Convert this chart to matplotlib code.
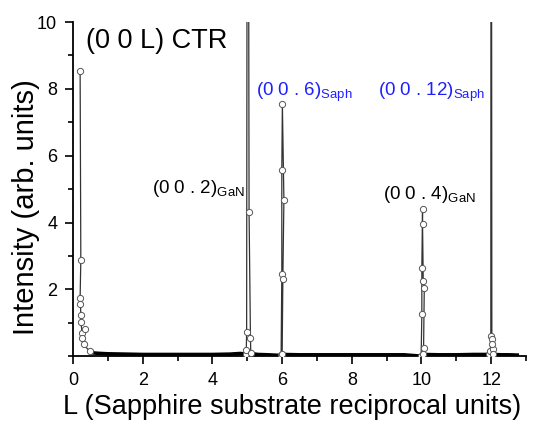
import numpy as np
import matplotlib
matplotlib.use("Agg")
import matplotlib.pyplot as plt
from matplotlib.ticker import MultipleLocator

plt.rcParams['font.family'] = ['Liberation Sans', 'DejaVu Sans']
plt.rcParams['mathtext.fontset'] = 'custom'
plt.rcParams['mathtext.rm'] = 'Liberation Sans'

# specular rod near L = 0
rod_L = [0.20, 0.22, 0.20, 0.21, 0.22, 0.22, 0.26, 0.34, 0.26, 0.30, 0.47]
rod_I = [8.53, 2.88, 1.75, 1.55, 1.23, 1.03, 0.68, 0.82, 0.54, 0.35, 0.15]

# (0 0 . 2) GaN
gan2_L = [4.95, 4.97, 4.98, 5.01, 5.05, 5.09, 5.10]
gan2_I = [0.06, 0.18, 0.72, 30.0, 4.32, 0.53, 0.08]

# (0 0 . 6) sapphire
sap6_L = [5.97, 5.99, 5.99, 6.006, 6.05, 6.02, 6.00]
sap6_I = [0.02, 2.47, 5.56, 7.56, 4.68, 2.32, 0.05]

# (0 0 . 4) GaN
gan4_L = [9.99, 10.01, 10.01, 10.03, 10.03, 10.05, 10.08, 10.06, 10.05]
gan4_I = [0.00, 1.25, 2.63, 4.40, 3.97, 2.25, 2.05, 0.25, 0.05]

# (0 0 . 12) sapphire
sap12_L = [11.95, 11.98, 11.99, 12.00, 12.02, 12.04, 12.03, 12.06]
sap12_I = [0.05, 0.15, 0.60, 30.0, 0.50, 0.20, 0.35, 0.05]

# background between peaks
base_L = [0.47, 0.55, 0.65, 0.8, 1.0, 1.5, 2.0, 2.5, 3.0, 3.5, 4.0, 4.5, 4.8, 4.95,
          5.1, 5.3, 5.6, 5.97, 6.0, 6.5, 7.0, 7.5, 8.0, 8.5, 9.0, 9.5, 9.99,
          10.05, 10.5, 11.0, 11.5, 11.95, 12.06, 12.3, 12.5, 12.8]
base_I = [0.15, 0.10, 0.09, 0.08, 0.07, 0.06, 0.05, 0.05, 0.05, 0.05, 0.05, 0.06, 0.08, 0.06,
          0.08, 0.05, 0.04, 0.02, 0.05, 0.04, 0.04, 0.04, 0.04, 0.04, 0.04, 0.04, 0.00,
          0.05, 0.04, 0.04, 0.05, 0.05, 0.05, 0.04, 0.04, 0.03]

fig = plt.figure(figsize=(5.34, 4.24), dpi=100)
ax = fig.add_axes([0.137, 0.160, 0.848, 0.788])

ax.plot(base_L, base_I, color='black', lw=2.6, zorder=2, solid_capstyle='butt')
for L, I in [(rod_L, rod_I), (gan2_L, gan2_I), (sap6_L, sap6_I),
             (gan4_L, gan4_I), (sap12_L, sap12_I)]:
    ax.plot(L, I, color='#333333', lw=0.9, marker='o', ms=4.5,
            mfc='white', mec='#555555', mew=0.7, zorder=3)

ax.set_xlim(0, 13)
ax.set_ylim(0, 10)
ax.xaxis.set_major_locator(MultipleLocator(2))
ax.xaxis.set_minor_locator(MultipleLocator(1))
ax.set_yticks([2, 4, 6, 8, 10])
ax.yaxis.set_minor_locator(MultipleLocator(1))
for s in ['top', 'right']:
    ax.spines[s].set_visible(False)
for s in ['left', 'bottom']:
    ax.spines[s].set_linewidth(1.3)
ax.tick_params(which='major', length=6, width=1.2, labelsize=13, pad=5.5)
ax.tick_params(which='minor', length=3.5, width=1.2)

ax.set_xlabel('L (Sapphire substrate reciprocal units)', fontsize=19.5)
ax.xaxis.set_label_coords(0.4826, -0.112)
ax.set_ylabel('Intensity (arb. units)', fontsize=21)
ax.yaxis.set_label_coords(-0.073, 0.445)

blue = '#1f1fff'
ax.text(0.37, 9.21, '(0 0 L) CTR', fontsize=19.5, va='baseline')
ax.text(2.27, 4.87, r'(0 0 . 2)$_{\mathrm{GaN}}$', fontsize=13.5, va='baseline')
ax.text(5.24, 7.81, r'(0 0 . 6)$_{\mathrm{Saph}}$', fontsize=13.5, va='baseline', color=blue)
ax.text(8.75, 7.81, r'(0 0 . 12)$_{\mathrm{Saph}}$', fontsize=13.5, va='baseline', color=blue)
ax.text(8.90, 4.69, r'(0 0 . 4)$_{\mathrm{GaN}}$', fontsize=13.5, va='baseline')

fig.savefig('out.png', dpi=100)
